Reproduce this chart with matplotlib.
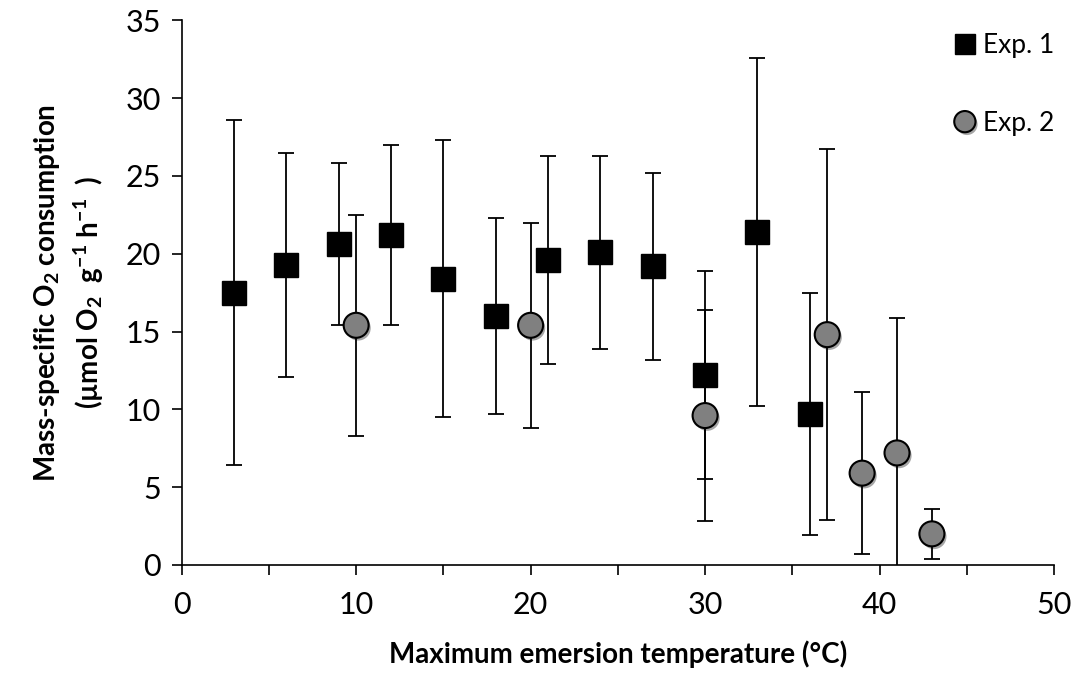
import numpy as np
import matplotlib
matplotlib.use("Agg")
import matplotlib.pyplot as plt
import matplotlib.patheffects as pe

plt.rcParams['font.family'] = ['Lato', 'DejaVu Sans']
plt.rcParams['mathtext.fontset'] = 'custom'
plt.rcParams['mathtext.rm'] = 'Lato:bold'
plt.rcParams['mathtext.default'] = 'rm'

# Exp. 1 (squares)
exp1_temp = [3, 6, 9, 12, 15, 18, 21, 24, 27, 30, 33, 36]
exp1_mean = [17.5, 19.3, 20.6, 21.2, 18.4, 16.0, 19.6, 20.1, 19.2, 12.2, 21.4, 9.7]
exp1_err = [11.1, 7.2, 5.2, 5.8, 8.9, 6.3, 6.7, 6.2, 6.0, 6.7, 11.2, 7.8]

# Exp. 2 (circles)
exp2_temp = [10, 20, 30, 37, 39, 41, 43]
exp2_mean = [15.4, 15.4, 9.6, 14.8, 5.9, 7.2, 2.0]
exp2_err = [7.1, 6.6, 6.8, 11.9, 5.2, 8.7, 1.6]

fig = plt.figure(figsize=(10.75, 6.75), dpi=100)
ax = fig.add_axes([0.169, 0.163, 0.8115, 0.807])

shadow = [pe.SimplePatchShadow(offset=(1.5, -2), alpha=0.35, shadow_rgbFace='black'), pe.Normal()]

ax.errorbar(exp1_temp, exp1_mean, yerr=exp1_err, fmt='none', ecolor='black',
            elinewidth=1.3, capsize=6, capthick=1.3, zorder=2)
sq, = ax.plot(exp1_temp, exp1_mean, 's', ms=17, mfc='black', mec='black',
              label='Exp. 1', zorder=3)

ax.errorbar(exp2_temp, exp2_mean, yerr=exp2_err, fmt='none', ecolor='black',
            elinewidth=1.3, capsize=6, capthick=1.3, zorder=4)
ci, = ax.plot(exp2_temp, exp2_mean, 'o', ms=18, mfc='#808080', mec='black',
              mew=1.5, label='Exp. 2', zorder=5)
ci.set_path_effects(shadow)

ax.set_xlim(0, 50)
ax.set_ylim(0, 35)
ax.set_xticks(np.arange(0, 51, 10))
ax.set_xticks(np.arange(0, 51, 5), minor=True)
ax.set_yticks(np.arange(0, 36, 5))
ax.tick_params(axis='both', which='both', direction='out', length=7, width=1.2,
               labelsize=22, pad=8)
ax.tick_params(axis='x', pad=12)
for s in ['top', 'right']:
    ax.spines[s].set_visible(False)
for s in ['left', 'bottom']:
    ax.spines[s].set_linewidth(1.2)

ax.set_xlabel('Maximum emersion temperature (°C)', fontsize=20, fontweight='bold', labelpad=15)
ax.set_ylabel('Mass-specific O$_2$ consumption\n(µmol O$_2$  g$^{-1}$ h$^{-1}$  )',
              fontsize=20, fontweight='bold', labelpad=14, linespacing=1.35)

ax.legend(handles=[sq, ci], loc='upper right', bbox_to_anchor=(1.028, 1.02),
          frameon=False, fontsize=19, markerscale=0.85, labelspacing=2.0,
          handlelength=0.6, handletextpad=0.4)

fig.savefig('out.png', dpi=100)
